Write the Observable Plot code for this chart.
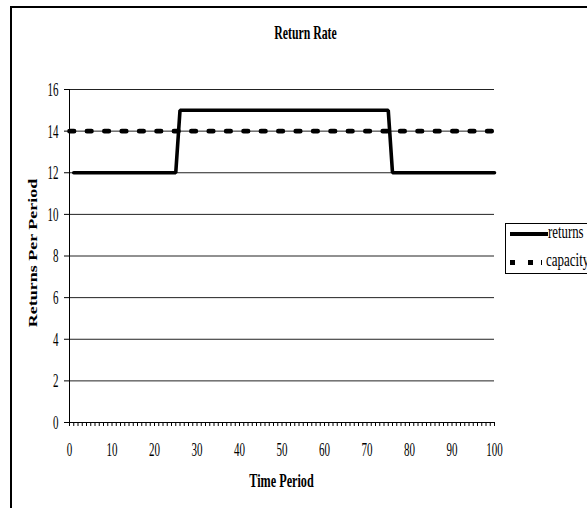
<!DOCTYPE html>
<html>
<head>
<meta charset="utf-8">
<script src="https://cdn.jsdelivr.net/npm/d3@7"></script>
<script src="https://cdn.jsdelivr.net/npm/@observablehq/plot@0.6"></script>
<style>
  html, body { margin: 0; padding: 0; background: #fff; overflow: hidden; }
  #page { position: relative; width: 587px; height: 508px; overflow: hidden; font-family: "Liberation Serif", "Times New Roman", serif; color: #000; }
  #frame { position: absolute; left: 10px; top: 6px; width: 700px; height: 700px; border-left: 2px solid #000; border-top: 2px solid #000; }
  #chart { position: absolute; left: 0; top: 0; }
  .lbl { position: absolute; white-space: nowrap; line-height: 1; }
  .bold { font-weight: bold; }
  #legend { position: absolute; left: 505px; top: 223px; width: 120px; height: 49px; border: 1px solid #000; background: #fff; }
  .sw { position: absolute; background: #000; }
</style>
</head>
<body>
<div id="page">
  <div id="frame"></div>
  <div id="chart"></div>
  <div class="lbl bold" style="left:305.5px; top:34px; font-size:11.8px; transform:translate(-50%,-50%) scale(1,1.58);">Return Rate</div>
  <div class="lbl bold" style="left:32.5px; top:253px; font-size:12px; transform:translate(-50%,-50%) rotate(-90deg) scale(1.5,1);">Returns Per Period</div>
  <div class="lbl bold" style="left:281.5px; top:481px; font-size:12.2px; transform:translate(-50%,-50%) scale(1,1.5);">Time Period</div>
  <div id="legend"></div>
  <div class="sw" style="left:510px; top:232px; width:38px; height:3.5px;"></div>
  <div class="lbl" style="left:548px; top:233px; font-size:12.8px; transform:translate(0,-50%) scale(1,1.45); transform-origin:left center;">returns</div>
  <div class="sw" style="left:510px; top:260px; width:5px; height:5px;"></div>
  <div class="sw" style="left:528px; top:260px; width:5px; height:5px;"></div>
  <div class="sw" style="left:541px; top:260px; width:1px; height:5px;"></div>
  <div class="lbl" style="left:546px; top:259px; font-size:13px; transform:translate(0,-50%) scale(1,1.45); transform-origin:left center;">capacity</div>
</div>
<script>
// Returns per period: 12 until period 25, 15 from 26 to 75, then back to 12
const returnPeriods = [1, 25, 26, 75, 76, 100];
const returnValues = [12, 12, 15, 15, 12, 12];

// Capacity holds steady at 14 over the whole horizon
const capacityPeriods = [0, 100];
const capacityValues = [14, 14];

// Axis ticks
const xTickLabels = [0, 10, 20, 30, 40, 50, 60, 70, 80, 90, 100];
const yTickLabels = [0, 2, 4, 6, 8, 10, 12, 14, 16];
const xMinorTicks = d3.range(0, 101, 1);

const returns = returnPeriods.map((p, i) => ({period: p, value: returnValues[i]}));
const capacity = capacityPeriods.map((p, i) => ({period: p, value: capacityValues[i]}));

const chart = Plot.plot({
  width: 587,
  height: 508,
  marginLeft: 69,
  marginRight: 93,
  marginTop: 89,
  marginBottom: 86,
  style: {fontFamily: "Liberation Serif, Times New Roman, serif", fontSize: "11px", color: "#000", background: "transparent"},
  x: {domain: [0, 100], label: null},
  y: {domain: [0, 16], label: null},
  marks: [
    // horizontal gridlines
    Plot.ruleY(yTickLabels.filter(d => d > 0), {stroke: "#222", strokeWidth: 1}),
    // capacity: square dots along 14
    Plot.line(capacity, {x: "period", y: "value", stroke: "#000", strokeWidth: 4.6, strokeDasharray: "4.6 12.8"}),
    // returns: heavy solid step line
    Plot.line(returns, {x: "period", y: "value", stroke: "#000", strokeWidth: 3.6, strokeLinejoin: "miter"}),
    // axis lines
    Plot.ruleY([0], {stroke: "#000", strokeWidth: 1}),
    Plot.ruleX([0], {stroke: "#000", strokeWidth: 1}),
    // x axis: a minor tick for every period, labels every 10
    Plot.axisX({ticks: xMinorTicks, tickSize: 4, tickFormat: () => "", label: null}),
    Plot.axisX({ticks: xTickLabels, tickSize: 0, tickPadding: 23, label: null}),
    // y axis
    Plot.axisY({ticks: yTickLabels, tickSize: 5, tickPadding: 6, label: null})
  ]
});

document.getElementById("chart").appendChild(chart);

// Tall, narrow serif look for the tick labels: stretch each label vertically
// about its own centre, wrapping it in a group so Plot's placement is kept.
chart.querySelectorAll("text").forEach(t => {
  if (!t.textContent) return;
  const r = t.getBoundingClientRect();
  const parent = t.parentNode;
  const pt = chart.createSVGPoint();
  pt.x = r.left + r.width / 2;
  pt.y = r.top + r.height / 2;
  const p = pt.matrixTransform(parent.getScreenCTM().inverse());
  const g = document.createElementNS("http://www.w3.org/2000/svg", "g");
  g.setAttribute("transform", `translate(${p.x},${p.y}) scale(1,1.72) translate(${-p.x},${-p.y})`);
  parent.insertBefore(g, t);
  g.appendChild(t);
});
</script>
</body>
</html>
